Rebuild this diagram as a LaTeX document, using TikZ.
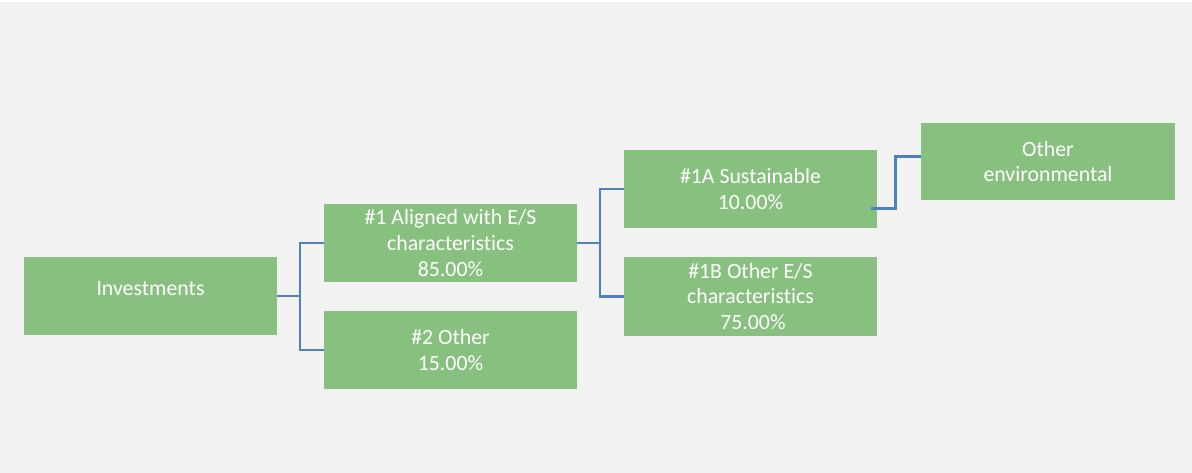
\documentclass[tikz,border=0pt]{standalone}
\usepackage{fontspec}
\setmainfont{Carlito}[Ligatures=NoCommon]
\definecolor{boxgreen}{HTML}{88C080}
\definecolor{linkblue}{HTML}{4F81BD}
\definecolor{backgray}{HTML}{F2F2F2}
\tikzset{
  catbox/.style={fill=boxgreen, text=white, minimum width=253pt, minimum height=78pt,
    inner sep=0pt, align=center, font=\fontsize{21.8}{25.6}\selectfont},
  link/.style={draw=linkblue, line width=2.2pt}
}

\begin{document}
\begin{tikzpicture}[x=1pt, y=-1pt]
    \fill[backgray] (0,0) rectangle (1192,473);
    \fill[white] (0,0) rectangle (1192,2);
    \node[catbox] (inv) at (150.5,296) {\raisebox{7pt}[\height][\depth]{Investments}};
    \node[catbox] (al) at (450.5,243) {\#1 Aligned with E/S\\characteristics\\85.00\%};
    \node[catbox] (oth) at (450.5,350) {\#2 Other\\15.00\%};
    \node[catbox] (sus) at (750.5,189) {\#1A Sustainable\\10.00\%};
    \node[catbox] (oes) at (750.5,296.5) {\#1B Other E/S\\characteristics\\\ 75.00\%};
    \node[catbox, minimum width=254pt, minimum height=77pt] (env) at (1048,161.5) {Other\\environmental};
    \coordinate (susout) at (871,208.5);
    \draw[link] (inv.east) -- (300,296) |- (al.west);
    \draw[link] (300,296) |- (oth.west);
    \draw[link] (al.east) -- (600,243) |- (sus.west);
    \draw[link] (600,243) |- (oes.west);
    \draw[link] (susout) -- (895.5,208.5) |- (env.west |- 0,156.5);
\end{tikzpicture}
\end{document}
